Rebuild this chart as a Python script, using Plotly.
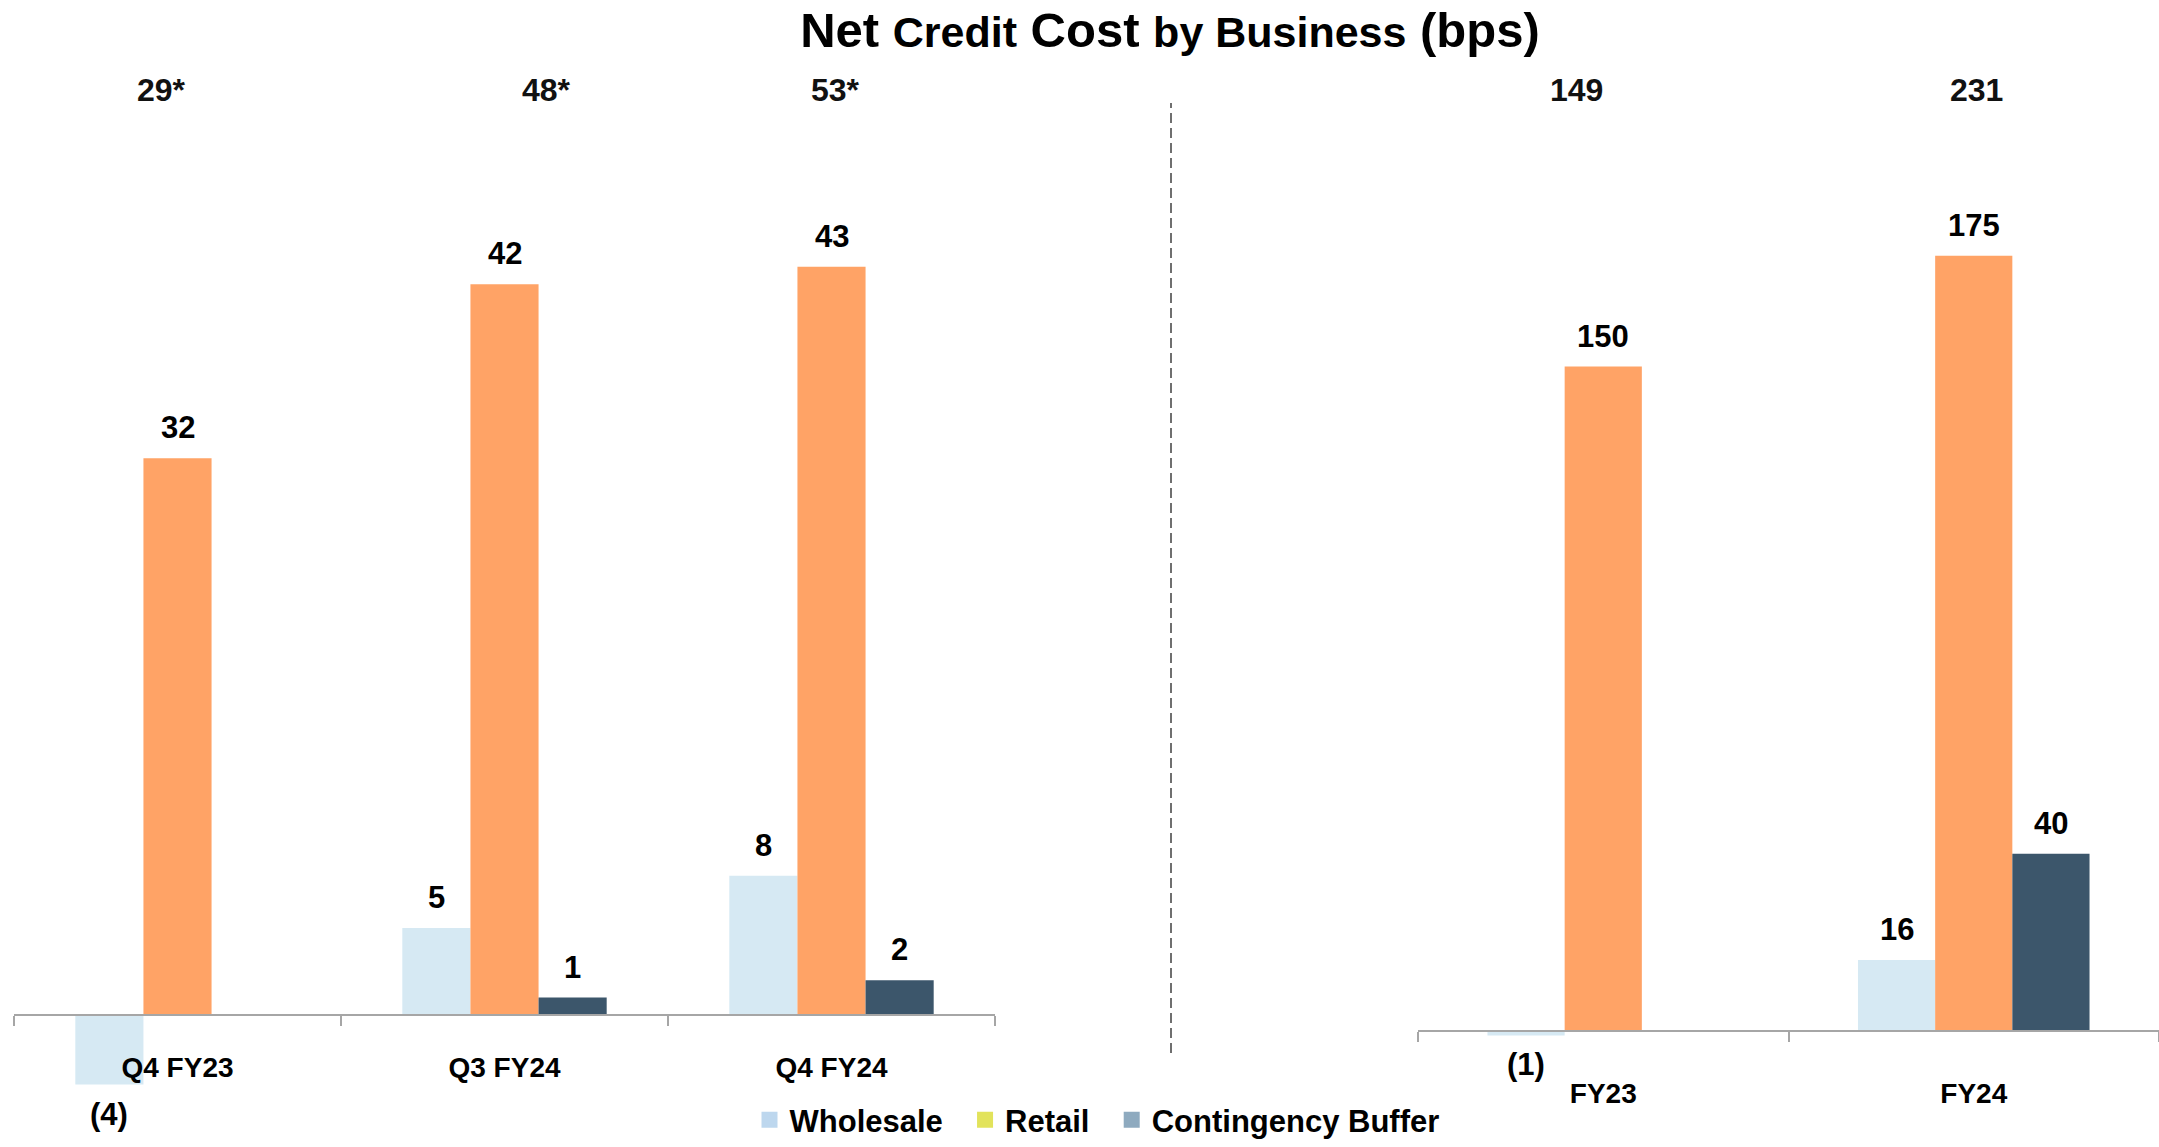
import plotly.graph_objects as go

# ---------------- data ----------------
quarters = ["Q4 FY23", "Q3 FY24", "Q4 FY24"]
years = ["FY23", "FY24"]
series_names = ["Wholesale", "Retail", "Contingency Buffer"]

q_wholesale = [-4, 5, 8]
q_retail = [32, 42, 43]
q_buffer = [None, 1, 2]

y_wholesale = [-1, 16]
y_retail = [150, 175]
y_buffer = [None, 40]

q_totals = ["29*", "48*", "53*"]
y_totals = ["149", "231"]

# ---------------- style ----------------
W, H = 2159, 1147
FONT = "Liberation Sans, Arial, Helvetica, sans-serif"
bar_colors = ["#d6e9f3", "#ffa366", "#3c566b"]
legend_colors = ["#bdd7ee", "#e2e35b", "#8eaabf"]
BARGAP = 0.375


def py(pix):
    return 1 - pix / H


def label(v):
    return f"({abs(v)})" if v < 0 else f"{v}"


fig = go.Figure()

panels = [
    dict(cats=quarters, vals=[q_wholesale, q_retail, q_buffer], xa="x", ya="y"),
    dict(cats=years, vals=[y_wholesale, y_retail, y_buffer], xa="x2", ya="y2"),
]

for p in panels:
    for j, (name, vals) in enumerate(zip(series_names, p["vals"])):
        fig.add_trace(go.Bar(
            x=p["cats"], y=vals, name=name, marker_color=bar_colors[j],
            marker_line_width=0, showlegend=False,
            xaxis=p["xa"], yaxis=p["ya"], hoverinfo="x+y+name",
        ))

# legend-only entries (legend swatches use their own colours in the reference)
for name, c in zip(series_names, legend_colors):
    fig.add_trace(go.Scatter(
        x=[None], y=[None], mode="markers", name=name + "\u00a0\u00a0",
        marker=dict(symbol="square", size=17, color=c),
        xaxis="x", yaxis="y",
    ))

# value labels above / below each bar
w = (1 - BARGAP) / 3
for p in panels:
    for j, vals in enumerate(p["vals"]):
        for i, v in enumerate(vals):
            if v is None:
                continue
            neg = v < 0
            fig.add_annotation(
                x=i + (j - 1) * w, y=v, xref=p["xa"], yref=p["ya"],
                text=label(v), showarrow=False,
                yanchor="top" if neg else "bottom",
                yshift=-10 if neg else 11,
                font=dict(family=FONT, size=31, color="#000000", weight="bold"),
            )

# totals on top
q_shift = [-16, 42, 4]
y_shift = [-27, 3]
for i, t in enumerate(q_totals):
    fig.add_annotation(x=quarters[i], y=py(90), xref="x", yref="paper", text=t,
                       showarrow=False, xshift=q_shift[i], yanchor="middle",
                       font=dict(family=FONT, size=32, color="#111111", weight="bold"))
for i, t in enumerate(y_totals):
    fig.add_annotation(x=years[i], y=py(90), xref="x2", yref="paper", text=t,
                       showarrow=False, xshift=y_shift[i], yanchor="middle",
                       font=dict(family=FONT, size=32, color="#111111", weight="bold"))

# axis geometry
L_zero, L_scale, L_rng = 1015, 17.4, [-5, 45]
R_zero, R_scale, R_rng = 1031, 4.43, [-5, 185]


def ydom(zero, scale, rng):
    bottom = zero - rng[0] * scale
    top = zero - rng[1] * scale
    return [py(bottom), py(top)]


xcommon = dict(
    type="category", anchor="free", showline=True, linecolor="#a6a6a6", linewidth=2,
    ticks="outside", tickson="boundaries", ticklen=10, tickcolor="#a6a6a6", tickwidth=1.5,
    showgrid=False, zeroline=False, layer="above traces",
    tickfont=dict(family=FONT, size=28, color="#000000", weight="bold"),
)
ycommon = dict(visible=False, showgrid=False, zeroline=False)

fig.update_layout(
    width=W, height=H, autosize=False,
    margin=dict(l=0, r=0, t=0, b=0),
    paper_bgcolor="white", plot_bgcolor="white",
    barmode="group", bargap=BARGAP, bargroupgap=0,
    font=dict(family=FONT, color="#000000"),
    title=dict(
        text=("Net <span style='font-size:43px'>Credit</span> Cost "
              "<span style='font-size:43px'>by Business</span> (bps)"),
        x=1170 / W, xanchor="center", y=py(13), yanchor="top",
        xref="paper", yref="container",
        font=dict(family=FONT, size=49, color="#000000", weight="bold"),
    ),
    xaxis=dict(domain=[14 / W, 995 / W], position=py(L_zero), range=[-0.5, 2.5],
               ticklabelstandoff=27, **xcommon),
    xaxis2=dict(domain=[1418 / W, 1.0], position=py(R_zero), range=[-0.5, 1.5],
                ticklabelstandoff=37, **xcommon),
    yaxis=dict(domain=ydom(L_zero, L_scale, L_rng), range=L_rng, **ycommon),
    yaxis2=dict(domain=ydom(R_zero, R_scale, R_rng), range=R_rng, **ycommon),
    legend=dict(
        orientation="h", x=1106 / W, xanchor="center", y=0, yanchor="bottom",
        bgcolor="rgba(0,0,0,0)", itemsizing="trace",
        font=dict(family=FONT, size=31, color="#000000", weight="bold"),
    ),
    shapes=[dict(type="line", xref="paper", yref="paper",
                 x0=1171 / W, x1=1171 / W, y0=py(1053), y1=py(103),
                 line=dict(color="#404040", width=1.5, dash="10px,5px"))],
)

fig.write_html("out.html", config={"displayModeBar": False},
               post_script="document.body.style.margin='0';")
